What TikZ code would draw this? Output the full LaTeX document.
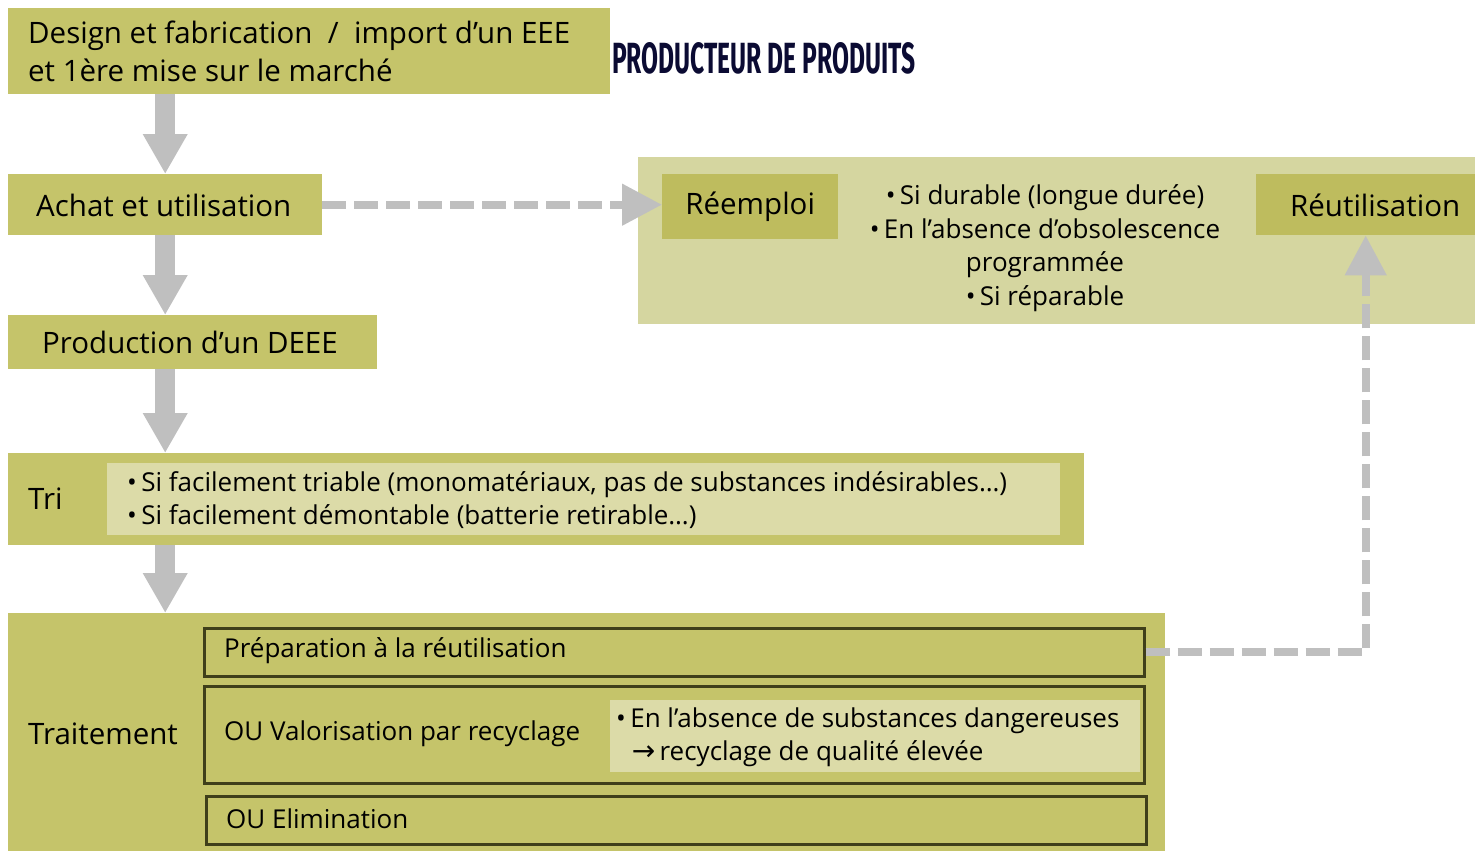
\documentclass[tikz,border=0pt]{standalone}
\usepackage{fontspec}
\usepackage{graphicx}
\setmainfont{Open Sans}
\newfontfamily\titlefont{Fira Sans}
\newfontfamily\arrowfont{DejaVu Sans}
\usetikzlibrary{arrows.meta}
\definecolor{olivebox}{HTML}{C5C46A}
\definecolor{lightbox}{HTML}{DCDBA8}
\definecolor{darkbox}{HTML}{BEBC5E}
\definecolor{outerlight}{HTML}{D5D6A0}
\definecolor{borderc}{HTML}{3F3F1A}
\definecolor{arrowgray}{HTML}{BFBFBF}
\definecolor{navy}{HTML}{0B0B33}
\begin{document}
\begin{tikzpicture}[x=1pt,y=-1pt,
  box/.style={fill=olivebox, draw=none, inner sep=0pt, anchor=north west},
  lbox/.style={fill=lightbox, draw=none, inner sep=0pt, anchor=north west},
  dbox/.style={fill=darkbox, draw=none, inner sep=0pt, anchor=north west},
  subbox/.style={fill=olivebox, draw=borderc, line width=2.5pt, inner sep=0pt, anchor=north west},
  bigtxt/.style={font=\fontsize{29.5}{38}\selectfont, anchor=west, inner sep=0pt},
  smtxt/.style={font=\fontsize{26}{33.5}\selectfont, anchor=west, inner sep=0pt},
  garrow/.style={draw=arrowgray, line width=20pt, -{Triangle[width=42pt,length=40pt]}},
  dasharrow/.style={draw=arrowgray, line width=8pt, dash pattern=on 24pt off 8pt, -{Triangle[width=40pt,length=40pt]}}
]
\useasboundingbox (0,0) rectangle (1475,851);

% left column boxes
\node[box, minimum width=602pt, minimum height=86pt] (design) at (8,8) {};
\node[bigtxt, align=left] (designt) at (28,51) {Design et fabrication~~/~~import d’un EEE\\et 1ère mise sur le marché};
\node[anchor=west, inner sep=0pt, text=navy] (title) at (612,58) {\resizebox{303pt}{31pt}{\titlefont\bfseries PRODUCTEUR DE PRODUITS}};

\node[box, minimum width=314pt, minimum height=61pt] (achat) at (8,174) {};
\node[bigtxt] (achatt) at (36,205) {Achat et utilisation};

\node[box, minimum width=369pt, minimum height=54pt] (prod) at (8,315) {};
\node[bigtxt] (prodt) at (42,342) {Production d’un DEEE};

\node[box, minimum width=1076pt, minimum height=92pt] (tri) at (8,453) {};
\node[lbox, minimum width=953pt, minimum height=72pt] (trilight) at (107,463) {};
\node[bigtxt] (trit) at (28,499) {Tri};
\node[smtxt, align=left] (tribul) at (127,500) {•\,Si facilement triable (monomatériaux, pas de substances indésirables…)\\•\,Si facilement démontable (batterie retirable…)};

\node[box, minimum width=1157pt, minimum height=238pt] (trait) at (8,613) {};
\node[bigtxt] (traitt) at (28,734) {Traitement};
\node[subbox, minimum width=940pt, minimum height=48pt] (sub1) at (203,627) {};
\node[smtxt] (sub1t) at (224,651) {Préparation à la réutilisation};
\node[subbox, minimum width=940pt, minimum height=97pt] (sub2) at (203,685) {};
\node[lbox, minimum width=530pt, minimum height=72pt] (sub2light) at (610,700) {};
\node[smtxt] (sub2t) at (224,734) {OU Valorisation par recyclage};
\node[smtxt, align=left] (sub2bul) at (616,737) {•\,En l’absence de substances dangereuses\\\hspace*{0.6em}{\arrowfont\fontsize{28}{28}\selectfont →}\,recyclage de qualité élevée};
\node[subbox, minimum width=940pt, minimum height=48pt] (sub3) at (205,795) {};
\node[smtxt] (sub3t) at (226,819) {OU Elimination};

% right group
\node[fill=outerlight, draw=none, inner sep=0pt, anchor=north west, minimum width=837pt, minimum height=167pt] (outer) at (638,157) {};
\node[dbox, minimum width=176pt, minimum height=65pt] (reemploi) at (662,174) {};
\node[font=\fontsize{29.5}{32}\selectfont, inner sep=0pt] (reemploit) at (reemploi.center) {Réemploi};
\node[dbox, minimum width=219pt, minimum height=61pt] (reutil) at (1256,174) {};
\node[font=\fontsize{29.5}{32}\selectfont, inner sep=0pt, anchor=west] (reutilt) at (1290,205) {Réutilisation};
\node[font=\fontsize{26}{33.5}\selectfont, inner sep=0pt, align=center] (reembul) at (1045,248) {•\,Si durable (longue durée)\\•\,En l’absence d’obsolescence\\programmée\\•\,Si réparable};

% arrows
\draw[garrow] (achat.center |- design.south) -- (achat.north);
\draw[garrow] (achat.south) -- (achat.south |- prod.north);
\draw[garrow] (achat.south |- prod.south) -- (achat.south |- tri.north);
\draw[garrow] (achat.south |- tri.south) -- (achat.south |- trait.north);

\draw[dasharrow] (achat.east) -- (achat.east -| reemploi.west);
\draw[dasharrow] (sub1.east) -| (reutil.south);
\end{tikzpicture}
\end{document}
